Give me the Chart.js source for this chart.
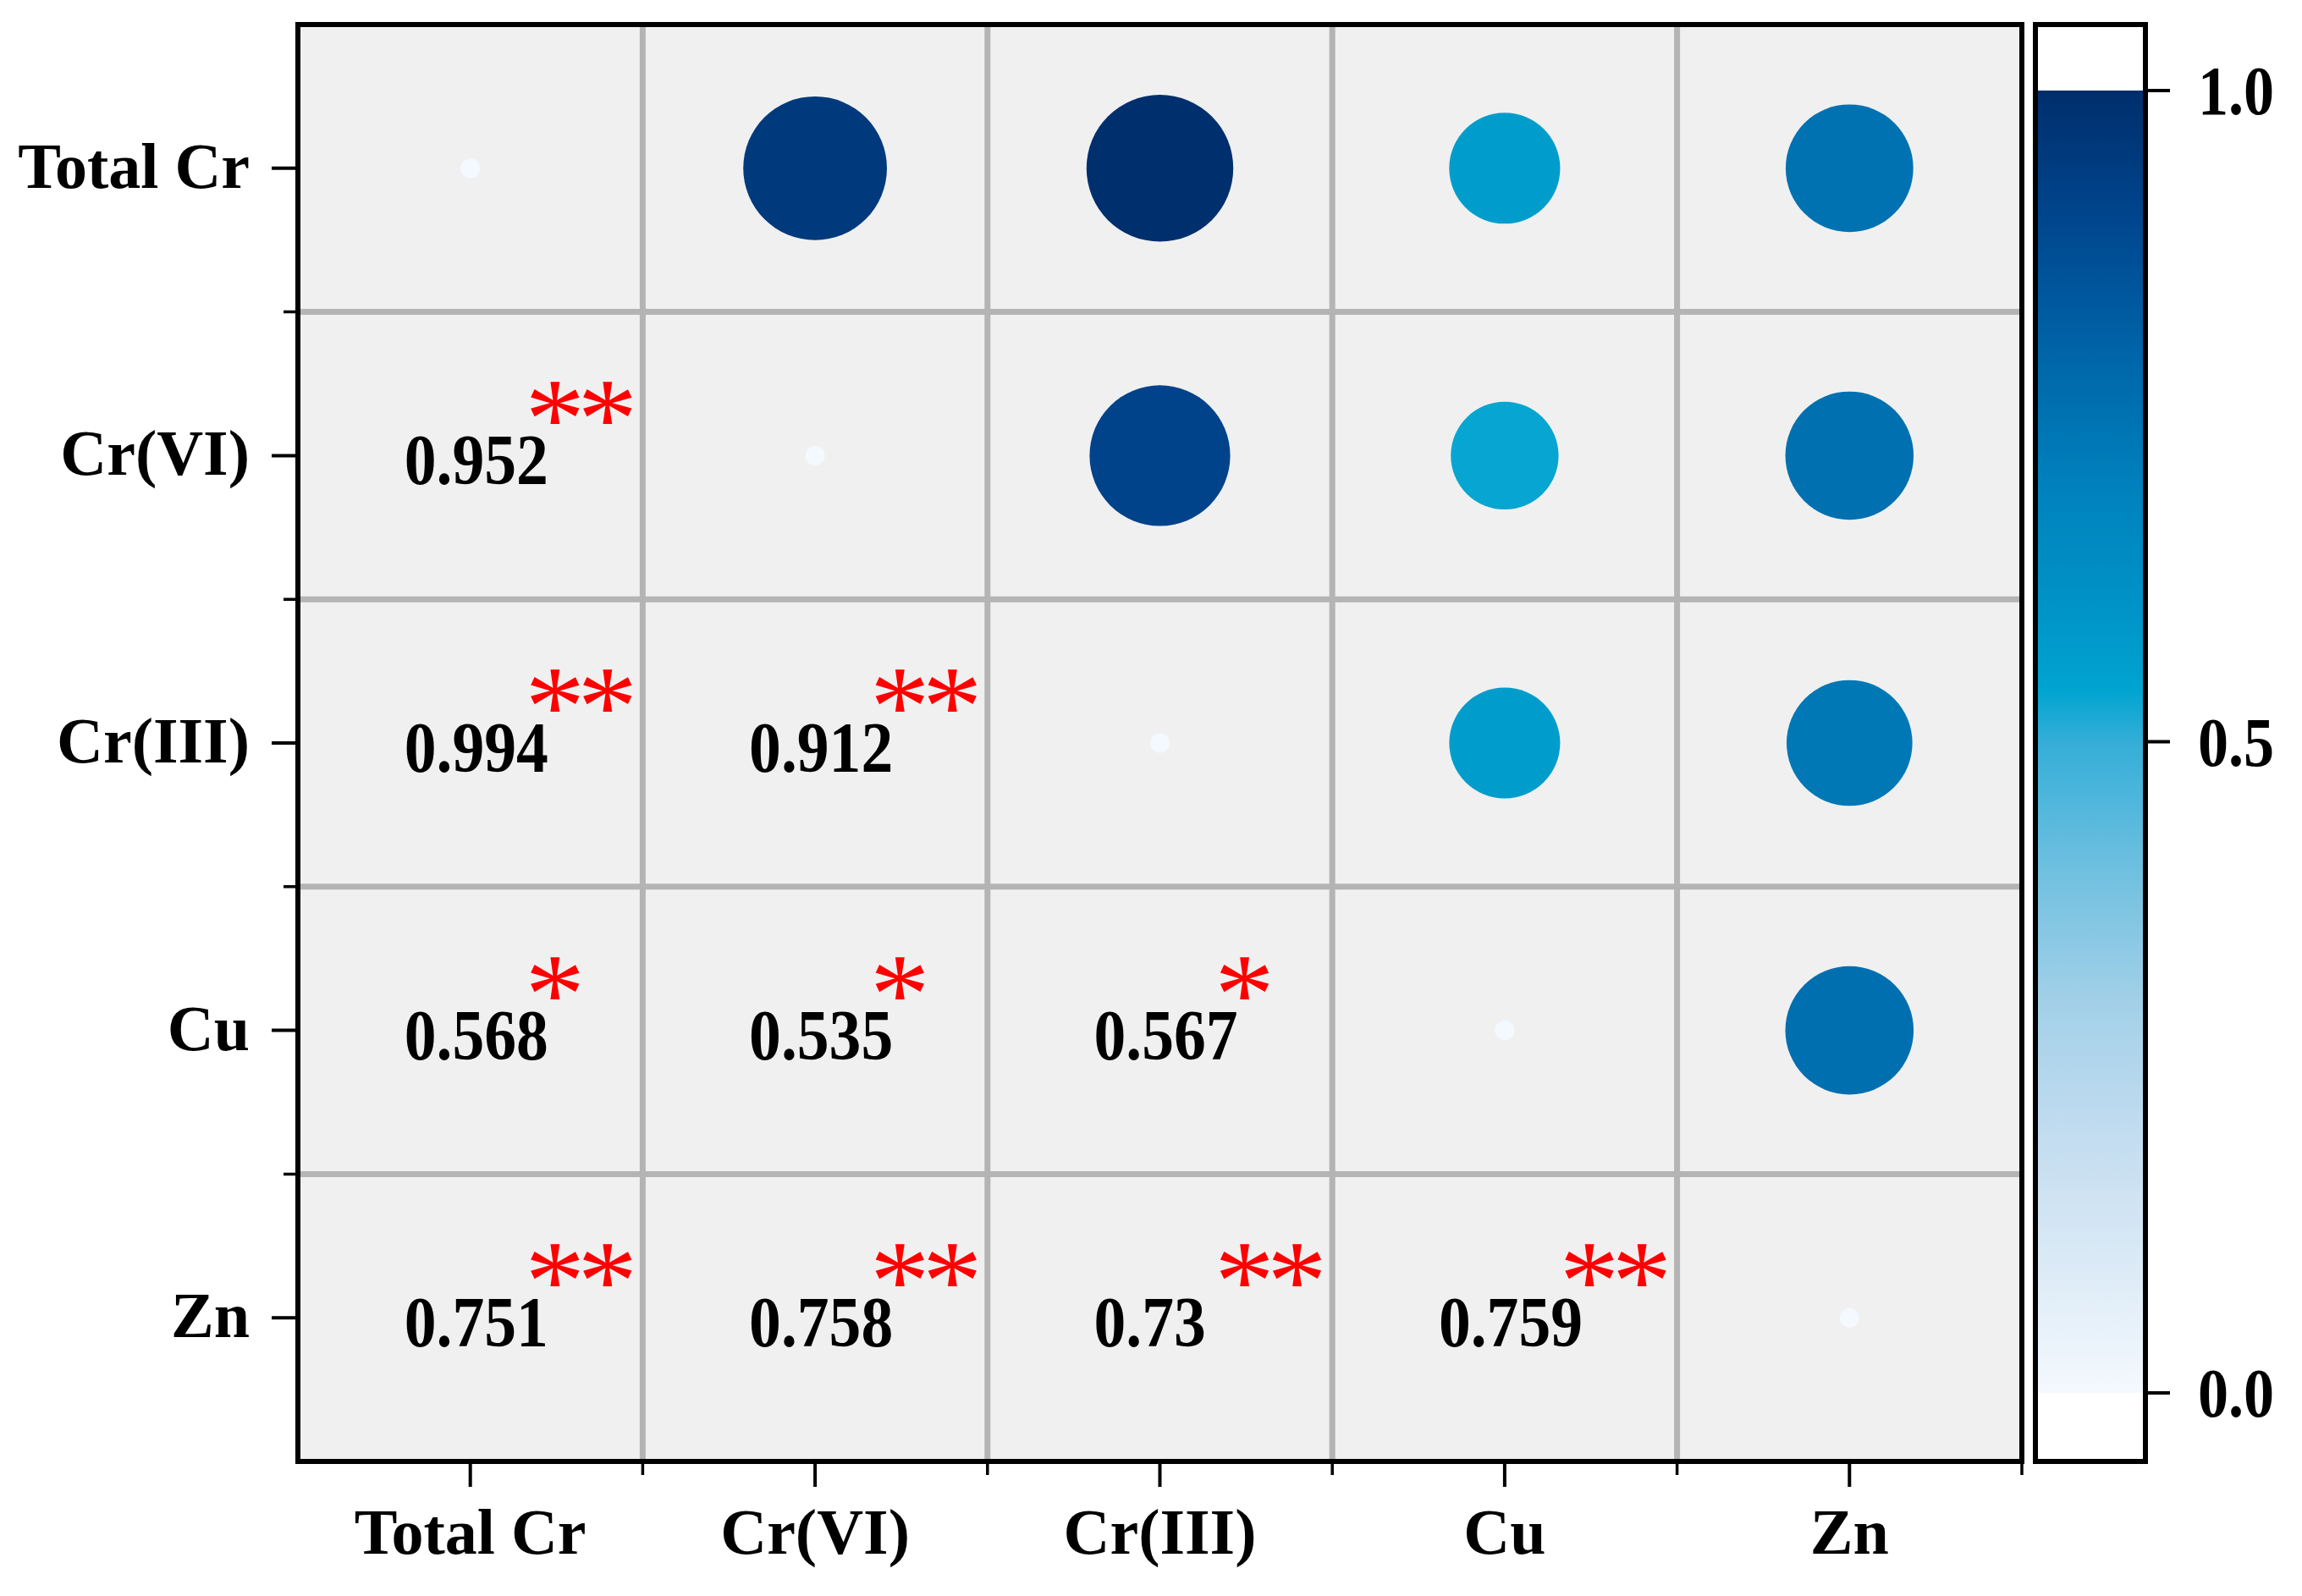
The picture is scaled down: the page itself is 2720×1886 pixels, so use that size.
<!DOCTYPE html>
<html>
<head>
<meta charset="utf-8">
<script src="https://cdn.jsdelivr.net/npm/chart.js@4.4.1/dist/chart.umd.min.js"></script>
<style>
  body { margin: 0; background: #ffffff; }
  canvas { display: block; }
</style>
</head>
<body>
<canvas id="corr-chart" width="2720" height="1886"></canvas>
<script>
// Correlation matrix (circles in upper triangle, values + stars in lower)

const variables = ['Total Cr', 'Cr(VI)', 'Cr(III)', 'Cu', 'Zn'];

const rowTotalCr = [1, 0.952, 0.994, 0.568, 0.751];
const rowCrVI    = [0.952, 1, 0.912, 0.535, 0.758];
const rowCrIII   = [0.994, 0.912, 1, 0.567, 0.73];
const rowCu      = [0.568, 0.535, 0.567, 1, 0.759];
const rowZn      = [0.751, 0.758, 0.73, 0.759, 1];

// significance marks for the lower triangle
const starsCrVI  = ['**'];
const starsCrIII = ['**', '**'];
const starsCu    = ['*', '*', '*'];
const starsZn    = ['**', '**', '**', '**'];

const colorbarTicks  = [0, 0.5, 1];
const colorbarLabels = ['0.0', '0.5', '1.0'];

// colour map stops (value -> colour)
const cmapStops  = [0, 0.1, 0.2, 0.3, 0.4, 0.5, 0.54, 0.6, 0.7, 0.8, 0.9, 1.0];
const cmapColors = ['#f4f9fe', '#dbeaf6', '#c2dcf0', '#a2d0e8', '#70c0e0', '#34aed8',
                    '#00a4d0', '#0094c8', '#0080bc', '#0064a8', '#00468e', '#002e6c'];

const matrix = [rowTotalCr, rowCrVI, rowCrIII, rowCu, rowZn];
const stars = [[], starsCrVI, starsCrIII, starsCu, starsZn];

function hexToRgb(h) {
    return [parseInt(h.slice(1, 3), 16), parseInt(h.slice(3, 5), 16), parseInt(h.slice(5, 7), 16)];
}

function cmap(v) {
    for (let k = 1; k < cmapStops.length; k++) {
        if (v <= cmapStops[k]) {
            const t = (v - cmapStops[k - 1]) / (cmapStops[k] - cmapStops[k - 1]);
            const a = hexToRgb(cmapColors[k - 1]);
            const b = hexToRgb(cmapColors[k]);
            const c = a.map((x, i) => Math.round(x + (b[i] - x) * t));
            return `rgb(${c[0]}, ${c[1]}, ${c[2]})`;
        }
    }
    return cmapColors[cmapColors.length - 1];
}

// build point lists
const circlePoints = [];
const diagPoints = [];
matrix.forEach((row, i) => {
    row.forEach((r, j) => {
        if (j > i) circlePoints.push({ x: j, y: i, r: r });
        if (j === i) diagPoints.push({ x: j, y: i, r: r });
    });
});

const FONT = '"Liberation Serif", "Times New Roman", serif';

function scaledText(ctx, text, x, y, sx) {
    ctx.save();
    ctx.translate(x, y);
    ctx.scale(sx, 1);
    ctx.fillText(text, 0, 0);
    ctx.restore();
}

const matrixDecor = {
    id: 'matrixDecor',
    beforeDatasetsDraw(chart) {
        const { ctx, chartArea: a, scales: { x, y } } = chart;
        ctx.save();
        ctx.fillStyle = '#f0f0f0';
        ctx.fillRect(a.left, a.top, a.right - a.left, a.bottom - a.top);

        // cell grid
        ctx.strokeStyle = '#b4b4b4';
        ctx.lineWidth = 7;
        for (let k = 1; k < variables.length; k++) {
            const px = x.getPixelForValue(k - 0.5);
            const py = y.getPixelForValue(k - 0.5);
            ctx.beginPath();
            ctx.moveTo(px, a.top); ctx.lineTo(px, a.bottom);
            ctx.moveTo(a.left, py); ctx.lineTo(a.right, py);
            ctx.stroke();
        }
        ctx.restore();
    },
    afterDatasetsDraw(chart) {
        const { ctx, chartArea: a, scales: { x, y } } = chart;
        ctx.save();

        // frame
        ctx.strokeStyle = '#000';
        ctx.lineWidth = 6;
        ctx.strokeRect(a.left, a.top, a.right - a.left, a.bottom - a.top);

        // major ticks at the cell centres
        ctx.lineWidth = 4;
        variables.forEach((name, k) => {
            const px = x.getPixelForValue(k);
            const py = y.getPixelForValue(k);
            ctx.beginPath();
            ctx.moveTo(a.left, py); ctx.lineTo(a.left - 31, py);
            ctx.moveTo(px, a.bottom); ctx.lineTo(px, a.bottom + 30);
            ctx.stroke();
        });
        // minor ticks at the cell edges
        ctx.lineWidth = 3.5;
        for (let k = 1; k <= variables.length; k++) {
            const px = x.getPixelForValue(k - 0.5);
            ctx.beginPath();
            if (k < variables.length) {
                const py = y.getPixelForValue(k - 0.5);
                ctx.moveTo(a.left, py); ctx.lineTo(a.left - 17, py);
            }
            ctx.moveTo(px, a.bottom); ctx.lineTo(px, a.bottom + 16);
            ctx.stroke();
        }

        // axis labels
        ctx.fillStyle = '#000';
        ctx.font = `bold 76px ${FONT}`;
        ctx.textAlign = 'right';
        ctx.textBaseline = 'alphabetic';
        variables.forEach((name, k) => {
            ctx.fillText(name, a.left - 57, y.getPixelForValue(k) + 23);
        });
        ctx.textAlign = 'center';
        variables.forEach((name, k) => {
            ctx.fillText(name, x.getPixelForValue(k), 1836);
        });

        // lower triangle values
        ctx.textAlign = 'left';
        ctx.font = `bold 84px ${FONT}`;
        matrix.forEach((row, i) => {
            row.forEach((r, j) => {
                if (j >= i) return;
                scaledText(ctx, String(r), x.getPixelForValue(j) - 78, y.getPixelForValue(i) + 34, 0.9);
            });
        });

        // stars
        ctx.fillStyle = '#ff0000';
        ctx.textAlign = 'center';
        ctx.font = `100px ${FONT}`;
        const m = ctx.measureText('*');
        const h = m.actualBoundingBoxAscent + m.actualBoundingBoxDescent;
        const size = 100 * 50 / h;
        ctx.font = `${size}px ${FONT}`;
        const m2 = ctx.measureText('*');
        const baseOff = (m2.actualBoundingBoxAscent - m2.actualBoundingBoxDescent) / 2;
        stars.forEach((row, i) => {
            row.forEach((s, j) => {
                const cx = x.getPixelForValue(j);
                const cy = y.getPixelForValue(i) - 62 + baseOff;
                for (let n = 0; n < s.length; n++) {
                    scaledText(ctx, '*', cx + 100 + n * 62, cy, 1.05);
                }
            });
        });

        // colour bar
        const cbL = 2405, cbR = 2535, cbTop = a.top, cbBot = a.bottom;
        const v0 = 1646, v1 = 107;
        const grad = ctx.createLinearGradient(0, v0, 0, v1);
        cmapStops.forEach((s, k) => grad.addColorStop(s, cmapColors[k]));
        ctx.fillStyle = '#ffffff';
        ctx.fillRect(cbL, cbTop, cbR - cbL, cbBot - cbTop);
        ctx.fillStyle = grad;
        ctx.fillRect(cbL, v1, cbR - cbL, v0 - v1);
        ctx.strokeStyle = '#000';
        ctx.lineWidth = 6;
        ctx.strokeRect(cbL, cbTop, cbR - cbL, cbBot - cbTop);

        ctx.lineWidth = 4;
        ctx.fillStyle = '#000';
        ctx.textAlign = 'left';
        ctx.font = `bold 82px ${FONT}`;
        colorbarTicks.forEach((t, k) => {
            const py = v0 + (v1 - v0) * t;
            ctx.beginPath();
            ctx.moveTo(cbR, py); ctx.lineTo(cbR + 29, py);
            ctx.stroke();
            scaledText(ctx, colorbarLabels[k], 2597, py + 28, 0.88);
        });

        ctx.restore();
    }
};

const chart = new Chart(document.getElementById('corr-chart'), {
    type: 'scatter',
    data: {
        datasets: [
            {
                label: 'circles',
                data: circlePoints,
                pointRadius: c => 87 * Math.sqrt(c.raw.r),
                backgroundColor: c => cmap(c.raw.r),
                borderWidth: 0,
                pointHoverRadius: c => 87 * Math.sqrt(c.raw.r)
            },
            {
                label: 'diagonal',
                data: diagPoints,
                pointRadius: 11.5,
                backgroundColor: '#f3f9ff',
                borderWidth: 0
            }
        ]
    },
    options: {
        responsive: false,
        devicePixelRatio: 1,
        animation: false,
        events: [],
        layout: { autoPadding: false, padding: { left: 352, right: 331, top: 29, bottom: 159 } },
        scales: {
            x: { type: 'linear', min: -0.5, max: 4.5, display: false },
            y: { type: 'linear', min: -0.5, max: 4.5, reverse: true, display: false }
        },
        plugins: {
            legend: { display: false },
            tooltip: { enabled: false }
        }
    },
    plugins: [matrixDecor]
});
</script>
</body>
</html>
